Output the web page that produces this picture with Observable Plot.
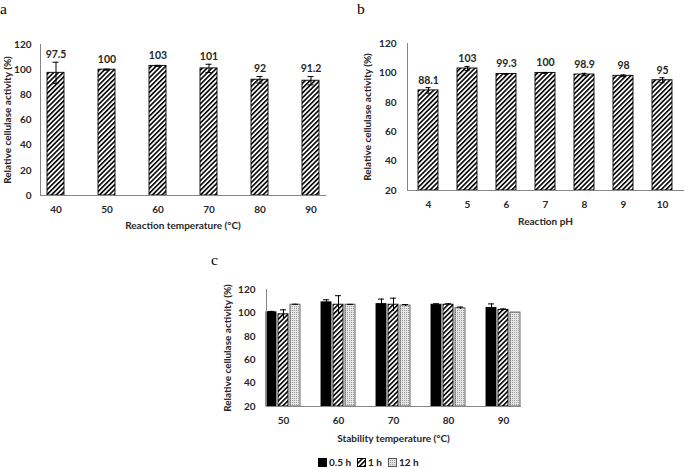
<!DOCTYPE html>
<html><head><meta charset="utf-8">
<script src="https://cdn.jsdelivr.net/npm/d3@7"></script>
<script src="https://cdn.jsdelivr.net/npm/@observablehq/plot@0.6"></script>
<style>
body{margin:0;background:#fff;}
#root{position:relative;width:685px;height:468px;overflow:hidden;font-family:Lato,"Open Sans",sans-serif;}
.panel{position:absolute;}
.letter{position:absolute;font-family:"Liberation Serif","DejaVu Serif",serif;font-size:15.5px;line-height:normal;color:#000;}
#legend{position:absolute;left:318px;top:456px;font-family:Lato,"Open Sans",sans-serif;font-size:10px;font-weight:bold;color:#222;display:flex;align-items:center;white-space:nowrap;}
#legend .item{display:flex;align-items:center;margin-right:6px;}
#legend svg{margin-right:2px;}
</style></head>
<body><div id="root">
<svg width="0" height="0" style="position:absolute">
  <defs>
    <pattern id="hatch" width="3.4" height="3.4" patternUnits="userSpaceOnUse" patternTransform="rotate(45)">
      <rect width="3.4" height="3.4" fill="#fff"/>
      <line x1="0.8" y1="0" x2="0.8" y2="3.4" stroke="#000" stroke-width="1.6"/>
    </pattern>
    <pattern id="dots" width="2" height="2" patternUnits="userSpaceOnUse">
      <rect width="2" height="2" fill="#e6e6e6"/>
      <rect width="1" height="1" fill="#9a9a9a"/>
    </pattern>
  </defs>
</svg>
</div>
<script>
// Panel a: reaction temperature
const tempA = ["40","50","60","70","80","90"];
const valA = [97.5,100,103,101,92,91.2];
const errA = [8.4,0.4,0.4,3.3,2.6,3.3];
const labA = ["97.5","100","103","101","92","91.2"];
const ticksA = [0,20,40,60,80,100,120];

// Panel b: reaction pH
const phB = ["4","5","6","7","8","9","10"];
const valB = [88.1,103,99.3,100,98.9,98,95];
const errB = [1.9,1.4,0.3,0.3,0.8,0.6,1.7];
const labB = ["88.1","103","99.3","100","98.9","98","95"];
const ticksB = [20,40,60,80,100,120];

// Panel c: stability temperature
const tempC = ["50","60","70","80","90"];
const seriesC = ["0.5 h","1 h","12 h"];
const valC05 = [100.5,109,107.5,107,104.3];
const errC05 = [0.8,2.2,4.3,0.8,3.4];
const valC1 = [98.8,107,107,107,102.6];
const errC1 = [3.8,7.7,5.6,0.8,0.8];
const valC12 = [107,107,106.3,104,100.3];
const errC12 = [0.4,0.3,0.8,1,0];
const ticksC = [20,40,60,80,100,120];

const FONT = "Lato, 'Open Sans', sans-serif";
const AXIS = "#868686";
const TXT = "#262626";
const root = document.getElementById("root");

function place(el, left, top) {
  el.classList.add("panel");
  el.style.left = left + "px";
  el.style.top = top + "px";
  root.appendChild(el);
}
function letter(t, left, top) {
  const d = document.createElement("div");
  d.className = "letter"; d.textContent = t;
  d.style.left = left + "px"; d.style.top = top + "px";
  root.appendChild(d);
}
function errMarks(data, x, cap) {
  return [
    Plot.ruleX(data, {x, y1: d => d.v - d.e, y2: d => d.v + d.e, stroke: "#000", strokeWidth: 1}),
    Plot.tickY(data, {x, y: d => d.v + d.e, stroke: "#000", strokeWidth: 1, ...cap}),
    Plot.tickY(data, {x, y: d => d.v - d.e, stroke: "#000", strokeWidth: 1, ...cap})
  ];
}
// label sits above the bar, or above a tall error cap
const labelY = d => Math.max(d.v, d.v + d.e - 2);

// ---- Panel a
const dataA = tempA.map((t, i) => ({t, v: valA[i], e: errA[i], lab: labA[i]}));
const plotA = Plot.plot({
  width: 335, height: 240,
  marginLeft: 40, marginRight: 10, marginTop: 44, marginBottom: 45,
  style: {fontFamily: FONT, fontSize: "10px", fontWeight: "bold", color: TXT, background: "transparent"},
  x: {domain: tempA, paddingInner: 0.672, paddingOuter: 0.08, label: "Reaction temperature (°C)",
      tickSize: 0, tickPadding: 10, labelAnchor: "center", labelOffset: 33, labelArrow: "none"},
  y: {domain: [0, 120], ticks: ticksA, tickSize: 0, tickPadding: 9, label: "Relative cellulase activity (%)",
      labelAnchor: "center", labelOffset: 37, labelArrow: "none"},
  marks: [
    Plot.barY(dataA, {x: "t", y1: 0, y2: "v", fill: "url(#hatch)", stroke: "#000", strokeWidth: 0.9}),
    ...errMarks(dataA, "t", {insetLeft: 5.5, insetRight: 5.5}),
    Plot.text(dataA, {x: "t", y: labelY, text: "lab", dy: -10, fontSize: 10.5, fontWeight: "bold", fill: TXT}),
    Plot.frame({anchor: "left", stroke: AXIS}),
    Plot.frame({anchor: "bottom", stroke: AXIS})
  ]
});
place(plotA, 0, 0);

// ---- Panel b
const dataB = phB.map((t, i) => ({t, v: valB[i], e: errB[i], lab: labB[i]}));
const plotB = Plot.plot({
  width: 345, height: 240,
  marginLeft: 67, marginRight: 2, marginTop: 43, marginBottom: 50,
  style: {fontFamily: FONT, fontSize: "10px", fontWeight: "bold", color: TXT, background: "transparent"},
  x: {domain: phB, paddingInner: 0.475, paddingOuter: 0.24, label: "Reaction pH",
      tickSize: 0, tickPadding: 10, labelAnchor: "center", labelOffset: 34, labelArrow: "none"},
  y: {domain: [20, 120], ticks: ticksB, tickSize: 0, tickPadding: 11, label: "Relative cellulase activity (%)",
      labelAnchor: "center", labelOffset: 44, labelArrow: "none"},
  marks: [
    Plot.barY(dataB, {x: "t", y1: 20, y2: "v", fill: "url(#hatch)", stroke: "#000", strokeWidth: 0.9}),
    ...errMarks(dataB, "t", {insetLeft: 7.5, insetRight: 7.5}),
    Plot.text(dataB, {x: "t", y: labelY, text: "lab", dy: -10, fontSize: 10.5, fontWeight: "bold", fill: TXT}),
    Plot.frame({anchor: "left", stroke: AXIS}),
    Plot.frame({anchor: "bottom", stroke: AXIS})
  ]
});
place(plotB, 340, 0);

// ---- Panel c
const seriesVals = [valC05, valC1, valC12];
const seriesErrs = [errC05, errC1, errC12];
const seriesFill = ["#000", "url(#hatch)", "url(#dots)"];
const seriesStroke = ["#000", "#000", "#555"];
const dataC = [];
tempC.forEach((t, i) => seriesC.forEach((s, j) => dataC.push({t, s, v: seriesVals[j][i], e: seriesErrs[j][i]})));
const plotC = Plot.plot({
  width: 360, height: 190,
  marginLeft: 74, marginRight: 8, marginTop: 29, marginBottom: 44,
  style: {fontFamily: FONT, fontSize: "10px", fontWeight: "bold", color: TXT, background: "transparent"},
  fx: {domain: tempC, paddingInner: 0.386, paddingOuter: 0.2, label: "Stability temperature (°C)", axis: "bottom",
       tickSize: 0, tickPadding: 10, labelAnchor: "center", labelOffset: 35, labelArrow: "none"},
  x: {domain: seriesC, paddingInner: 0.167, paddingOuter: 0, axis: null},
  y: {domain: [20, 120], ticks: ticksC, tickSize: 0, tickPadding: 11, label: "Relative cellulase activity (%)",
      labelAnchor: "center", labelOffset: 43, labelArrow: "none"},
  marks: [
    ...seriesC.map((s, j) => Plot.barY(dataC.filter(d => d.s === s),
      {fx: "t", x: "s", y1: 20, y2: "v", fill: seriesFill[j], stroke: seriesStroke[j], strokeWidth: 0.9})),
    Plot.ruleX(dataC.filter(d => d.e > 0), {fx: "t", x: "s", y1: d => d.v - d.e, y2: d => d.v + d.e, stroke: "#000"}),
    Plot.tickY(dataC.filter(d => d.e > 0), {fx: "t", x: "s", y: d => d.v + d.e, stroke: "#000", insetLeft: 2, insetRight: 2}),
    Plot.frame({anchor: "left", stroke: AXIS, facet: "super"}),
    Plot.frame({anchor: "bottom", stroke: AXIS, facet: "super"})
  ]
});
place(plotC, 180, 260);

// letters
letter("a", 0, 0);
letter("b", 357, 0);
letter("c", 211, 251);

// legend for panel c
const legend = document.createElement("div");
legend.id = "legend";
seriesC.forEach((s, j) => {
  const item = document.createElement("div");
  item.className = "item";
  item.innerHTML = `<svg width="9" height="9"><rect x="0.5" y="0.5" width="8" height="8" fill="${seriesFill[j]}" stroke="${seriesStroke[j]}" stroke-width="1"/></svg><span>${s}</span>`;
  legend.appendChild(item);
});
root.appendChild(legend);
</script>
</body></html>
